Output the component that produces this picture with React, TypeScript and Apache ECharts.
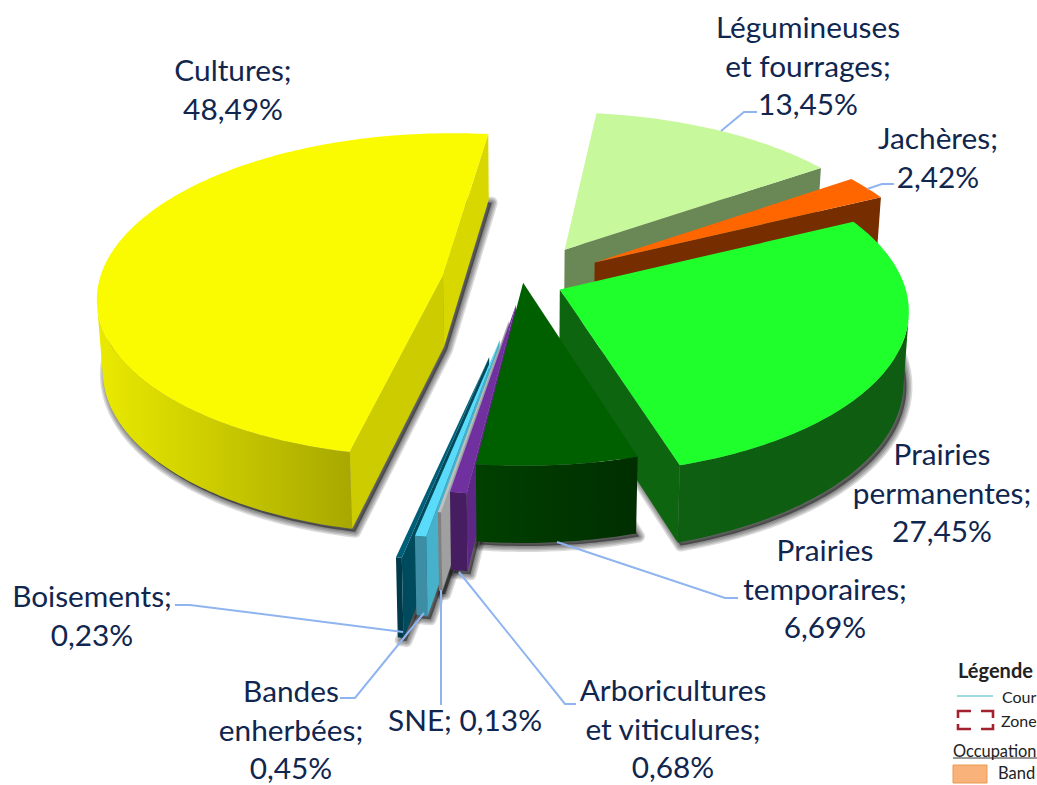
import React, { useEffect, useRef } from "react";
import * as echarts from "echarts";

const categories = ["Légumineuses\net fourrages", "Jachères", "Prairies\npermanentes", "Prairies\ntemporaires", "Arboricultures\net viticulures", "SNE", "Bandes\nenherbées", "Boisements", "Cultures"];
const values = [13.45, 2.42, 27.45, 6.69, 0.68, 0.13, 0.45, 0.23, 48.49];
const explode = [0.24, 0.245, 0.116, 0.004, 0.142, 0.238, 0.351, 0.451, 0.237];
const topColors = ["#C8F89C", "#FF6600", "#1FFF2B", "#006000", "#7030A0", "#BFBFBF", "#59DBF9", "#005F78", "#FAFA00"];
const wallFrom = ["#6A8756", "#762D00", "#0E5F11", "#004000", "#451D60", "#808080", "#3D8DA5", "#00394A", "#EAEA00"];
const wallTo = ["#6A8756", "#762D00", "#0F5D12", "#002E00", "#451D60", "#808080", "#3D8DA5", "#00394A", "#A8A800"];
const startFace = ["#6A8756", "#762D00", "#0E6510", "#003000", "#5D2885", "#A0A0A0", "#47B0CA", "#004A5E", "#CCCC00"];
const endFace = ["#6A8756", "#762D00", "#0E6510", "#003000", "#5D2885", "#A0A0A0", "#47B0CA", "#004A5E", "#D8D800"];
const paintOrder = [1, 2, 3, 9, 7, 6, 5, 4, 0];

const labelCentres = [[808, 65], [938, 157], [942, 492], [825, 588], [673, 728], [465, 719], [291, 729], [92, 615], [233, 89]];
const leaders = [
  [[721, 131], [744, 112], [757, 112]],
  [[867, 189], [882, 184], [894, 184]],
  [[557, 542], [725, 598], [738, 598]],
  [[459, 572], [565, 704], [576, 704]],
  [[441, 590], [441, 705]],
  [[424, 613], [355, 698], [340, 698]],
  [[403, 632], [190, 605], [175, 605]],
];

const START = 6.9, CX = 523, CY = 282, RX = 344, RY = 161, P = 0.12, DEPTH = 71, P2 = 0.08, SHRINK = 0.986;
const TEXT = "#10264F", LEAD = "#8FB4F0", FONT = "Lato";
const total = values.reduce((a, b) => a + b, 0);
const fmt = (v: number) => v.toFixed(2).replace(".", ",") + "%";
const rad = (d: number) => (d * Math.PI) / 180;

function project(U: number, V: number, low: boolean): number[] {
  const w = 1 + P * V;
  let x = CX + (RX * U) / w;
  let y = CY - (RY * V) / w;
  if (low) {
    x = CX + (x - CX) * SHRINK;
    y += DEPTH / (1 + P2 * V);
  }
  return [x, y];
}

function area(p: number[][]) {
  let s = 0;
  p.forEach((a, i) => {
    const b = p[(i + 1) % p.length];
    s += a[0] * b[1] - b[0] * a[1];
  });
  return s;
}

function renderSlice(params: any) {
  const i = params.dataIndex;
  let a0 = START;
  for (let k = 0; k < i; k++) a0 += (values[k] / total) * 360;
  const a1 = a0 + (values[i] / total) * 360;
  const mid = rad((a0 + a1) / 2);
  const au = explode[i] * Math.sin(mid), av = explode[i] * Math.cos(mid);
  const n = Math.max(2, Math.ceil(a1 - a0));
  const top: number[][] = [], low: number[][] = [];
  for (let k = 0; k <= n; k++) {
    const t = a0 + ((a1 - a0) * k) / n;
    const U = au + Math.sin(rad(t)), V = av + Math.cos(rad(t));
    top.push(project(U, V, false));
    low.push(project(U, V, true));
  }
  const A = project(au, av, false), B = project(au, av, true);
  const z = paintOrder[i] * 10 + 10;
  const base = [B, ...low].map((p) => [p[0] + 3, p[1] + 3]);
  const children: any[] = [12, 9, 6, 3].map((w) => ({
    type: "polygon", z2: 1, shape: { points: base },
    style: { fill: "rgba(0,0,0,0.14)", stroke: "rgba(0,0,0,0.14)", lineWidth: w, lineJoin: "round" },
  }));
  // only the facets of the outer wall that face the viewer
  const facing: number[] = [];
  for (let k = 0; k < n; k++) {
    if (area([top[k], top[k + 1], low[k + 1], low[k]]) < 0) facing.push(k);
  }
  if (facing.length) {
    const k0 = facing[0], k1 = facing[facing.length - 1] + 1;
    const upper = top.slice(k0, k1 + 1), lower = low.slice(k0, k1 + 1);
    const xs = upper.map((p) => p[0]);
    const x0 = Math.min(...xs), x1 = Math.max(...xs);
    const grad = new echarts.graphic.LinearGradient(x0, 0, Math.max(x1, x0 + 1), 0, [
      { offset: 0, color: wallFrom[i] },
      { offset: 1, color: wallTo[i] },
    ], true);
    children.push({
      type: "polygon", z2: z, shape: { points: [...upper, ...lower.reverse()] },
      style: { fill: grad },
    });
  }
  const startQuad = [A, top[0], low[0], B];
  const endQuad = [A, top[n], low[n], B];
  if (area(startQuad) < 0) children.push({ type: "polygon", z2: z + 1, shape: { points: startQuad }, style: { fill: startFace[i] } });
  if (area(endQuad) > 0) children.push({ type: "polygon", z2: z + 1, shape: { points: endQuad }, style: { fill: endFace[i] } });
  children.push({ type: "polygon", z2: z + 2, shape: { points: [A, ...top] }, style: { fill: topColors[i] } });
  return { type: "group", children };
}

const labelElements = categories.map((c, i) => ({
  type: "text", x: labelCentres[i][0], y: labelCentres[i][1], z: 10,
  style: {
    text: c === "SNE" ? `${c}; ${fmt(values[i])}` : `${c};\n${fmt(values[i])}`,
    fill: TEXT, fontSize: 29.8, fontFamily: FONT, lineHeight: 38.4,
    textAlign: "center", textVerticalAlign: "middle", align: "center", verticalAlign: "middle",
  },
}));

const leaderElements = leaders.map((pts) => ({
  type: "polyline", z: 9, shape: { points: pts },
  style: { stroke: LEAD, lineWidth: 2, fill: "none" },
}));

const RED = "#A3202F";
const bracket = (pts: number[][]) => ({ type: "polyline", z: 9, shape: { points: pts }, style: { stroke: RED, lineWidth: 2.6, fill: "none" } });
const small = (text: string, x: number, y: number, weight = "normal", size = 16) => ({
  type: "text", x, y, z: 10,
  style: { text, fill: "#222222", fontSize: size, fontWeight: weight, fontFamily: FONT, textAlign: "left", textVerticalAlign: "middle", align: "left", verticalAlign: "middle" },
});
const legendElements = [
  small("Légende", 958, 670, "bold", 20),
  { type: "line", z: 9, shape: { x1: 957, y1: 696, x2: 993, y2: 696 }, style: { stroke: "#7FD0D8", lineWidth: 1.4 } },
  small("Cour", 1002, 696),
  bracket([[958, 718], [958, 711], [971, 711]]),
  bracket([[981, 711], [993, 711], [993, 718]]),
  bracket([[958, 724], [958, 729], [971, 729]]),
  bracket([[981, 729], [993, 729], [993, 724]]),
  small("Zone", 1001, 720),
  small("Occupation", 953, 750, "normal", 16.4),
  { type: "line", z: 9, shape: { x1: 953, y1: 758, x2: 1037, y2: 758 }, style: { stroke: "#333333", lineWidth: 1 } },
  { type: "rect", z: 9, shape: { x: 953, y: 765, width: 34, height: 18 }, style: { fill: "#F9B27A", stroke: "#EA9A4C", lineWidth: 1 } },
  small("Band", 998, 773, "normal", 16.5),
];

export default function App() {
  const ref = useRef<HTMLDivElement>(null);
  useEffect(() => {
    const chart = echarts.init(ref.current!, undefined, { renderer: "svg" });
    chart.setOption({
      animation: false,
      backgroundColor: "#ffffff",
      series: [{
        type: "custom", coordinateSystem: "none", renderItem: renderSlice,
        data: values, silent: true, clip: false,
      }],
      graphic: [...leaderElements, ...labelElements, ...legendElements],
    });
    return () => chart.dispose();
  }, []);
  return <div ref={ref} style={{ position: "absolute", left: 0, top: 0, width: 1037, height: 785 }} />;
}
